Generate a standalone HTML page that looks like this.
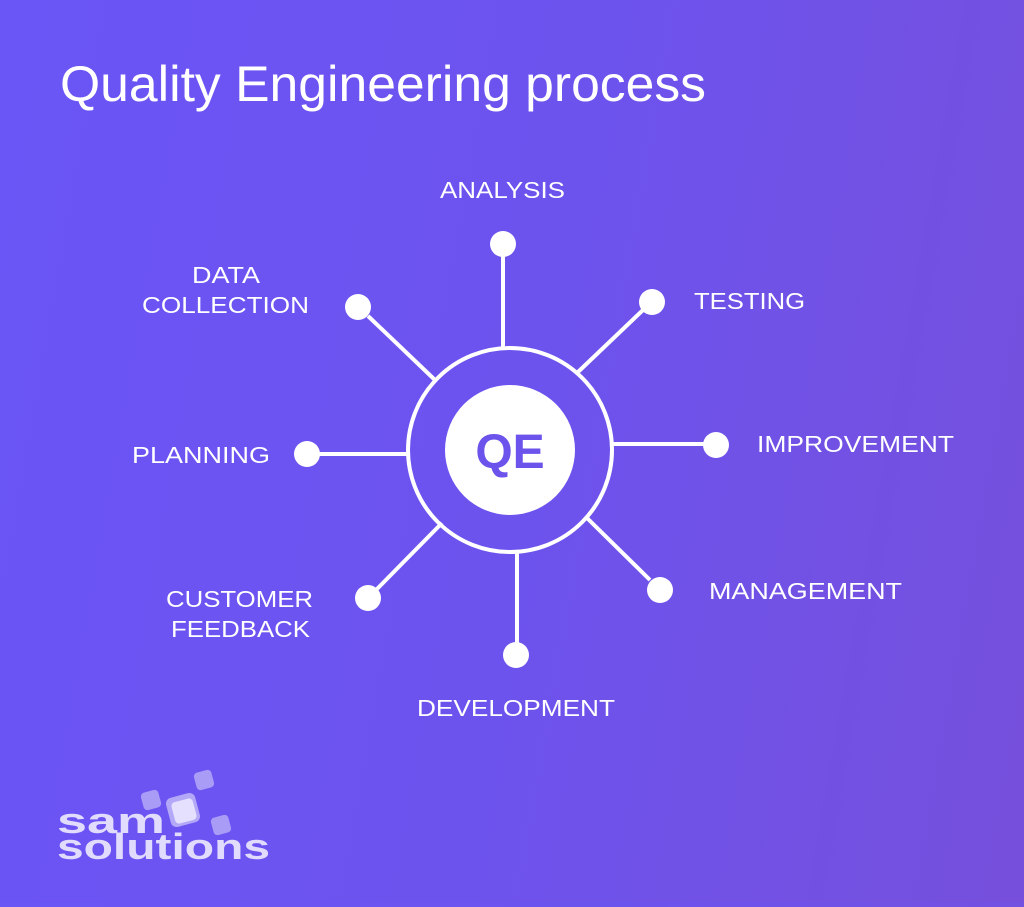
<!DOCTYPE html>
<html><head><meta charset="utf-8"><style>
html,body{margin:0;padding:0}
body{width:1024px;height:902px;overflow:hidden;background:linear-gradient(100deg,#6a55f6 0%,#6c53ee 50%,#7650dc 100%)}
</style></head><body>
<svg width="1024" height="902" viewBox="0 0 1024 902" xmlns="http://www.w3.org/2000/svg" font-family="Liberation Sans, sans-serif" fill="#fff">
<text x="60" y="101" font-size="50" textLength="646" lengthAdjust="spacingAndGlyphs">Quality Engineering process</text>
<g stroke="#fff" stroke-width="4" fill="none">
<circle cx="510" cy="450" r="102"/>
<line x1="503" y1="256" x2="503" y2="348"/>
<line x1="643" y1="310" x2="578" y2="372"/>
<line x1="704" y1="444" x2="612" y2="444"/>
<line x1="650" y1="580" x2="587" y2="518"/>
<line x1="517" y1="643" x2="517" y2="552"/>
<line x1="377" y1="589" x2="442" y2="523"/>
<line x1="319" y1="454" x2="408" y2="454"/>
<line x1="368" y1="316" x2="435" y2="380"/>
</g>
<circle cx="510" cy="450" r="65"/>
<text x="510" y="468" font-size="48" font-weight="bold" fill="#6b53ec" text-anchor="middle">QE</text>
<g>
<circle cx="503" cy="244" r="13"/><circle cx="652" cy="302" r="13"/><circle cx="716" cy="445" r="13"/><circle cx="660" cy="590" r="13"/>
<circle cx="516" cy="655" r="13"/><circle cx="368" cy="598" r="13"/><circle cx="307" cy="454" r="13"/><circle cx="358" cy="307" r="13"/>
</g>
<g font-size="23">
<text x="440" y="198" textLength="125" lengthAdjust="spacingAndGlyphs">ANALYSIS</text>
<text x="694" y="309" textLength="111" lengthAdjust="spacingAndGlyphs">TESTING</text>
<text x="757" y="452" textLength="197" lengthAdjust="spacingAndGlyphs">IMPROVEMENT</text>
<text x="709" y="599" textLength="193" lengthAdjust="spacingAndGlyphs">MANAGEMENT</text>
<text x="417" y="716" textLength="198" lengthAdjust="spacingAndGlyphs">DEVELOPMENT</text>
<text x="166" y="607" textLength="147" lengthAdjust="spacingAndGlyphs">CUSTOMER</text>
<text x="171" y="637" textLength="139" lengthAdjust="spacingAndGlyphs">FEEDBACK</text>
<text x="132" y="463" textLength="138" lengthAdjust="spacingAndGlyphs">PLANNING</text>
<text x="192" y="283" textLength="68" lengthAdjust="spacingAndGlyphs">DATA</text>
<text x="142" y="313" textLength="167" lengthAdjust="spacingAndGlyphs">COLLECTION</text>
</g>
<g>
<rect x="195" y="771" width="18" height="18" rx="4" fill="#a99cf7" transform="rotate(-15 204 780)"/>
<rect x="142" y="791" width="18" height="18" rx="4" fill="#a99cf7" transform="rotate(-15 151 800)"/>
<rect x="168" y="795" width="30" height="30" rx="6" fill="#b3a8f8" transform="rotate(-15 183 810)"/>
<rect x="173" y="800" width="22" height="22" rx="4" fill="#e4e0fd" transform="rotate(-15 184 811)"/>
<rect x="212" y="816" width="18" height="18" rx="4" fill="#a99cf7" transform="rotate(-15 221 825)"/>
<text x="57" y="833" font-size="36" font-weight="bold" fill="#e1dcfd" textLength="108" lengthAdjust="spacingAndGlyphs">sam</text>
<text x="57" y="859" font-size="36" font-weight="bold" fill="#e1dcfd" textLength="213" lengthAdjust="spacingAndGlyphs">solutions</text>
</g>
</svg>
</body></html>
